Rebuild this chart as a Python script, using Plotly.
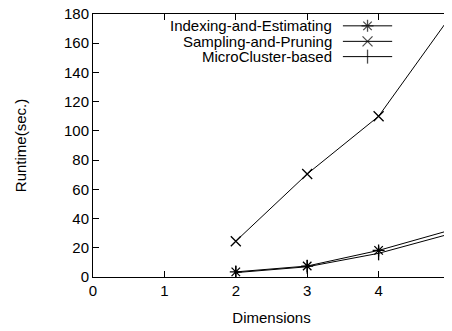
import plotly.graph_objects as go

dims = [2, 3, 4, 5]
indexing = [3.5, 7.5, 18.2, 32]
sampling = [24.5, 70.5, 110, 178]
micro = [3.0, 7.0, 16.2, 29.5]
names = ["Indexing-and-Estimating", "Sampling-and-Pruning", "MicroCluster-based"]
symbols = ["asterisk-open", "x-thin-open", "line-ns-open"]
xticks = [0, 1, 2, 3, 4, 5]
yticks = [0, 20, 40, 60, 80, 100, 120, 140, 160, 180]

FONT = "Liberation Sans, Arial, sans-serif"
fig = go.Figure()
series = [indexing, sampling, micro]
for name, vals, sym in zip(names, series, symbols):
    fig.add_trace(go.Scatter(
        x=dims, y=vals, mode="lines+markers", name=name, showlegend=False,
        line=dict(color="black", width=1),
        marker=dict(symbol=sym, size=10, color="black", line=dict(color="black", width=1.3)),
    ))

# manual gnuplot-style legend: text right-aligned, sample to the right
rows = [0.955, 0.896, 0.838]
for name, sym, yy in zip(names, symbols, rows):
    fig.add_trace(go.Scatter(
        x=[0.700, 0.769, 0.838], y=[yy, yy, yy], xaxis="x2", yaxis="y2",
        mode="lines+markers", showlegend=False, hoverinfo="skip",
        line=dict(color="black", width=1),
        marker=dict(symbol=sym, size=[0, 10, 0], color="black", line=dict(color="black", width=1.3)),
    ))
    fig.add_annotation(x=0.675, y=yy, xref="paper", yref="paper", text=name,
                       showarrow=False, xanchor="right", yanchor="middle",
                       font=dict(family=FONT, size=15, color="black"))

axis_common = dict(showline=True, linecolor="black", linewidth=1, mirror="ticks",
                   ticks="inside", ticklen=6, tickcolor="black", showgrid=False,
                   zeroline=False, automargin=False, ticklabeloverflow="allow",
                   tickfont=dict(family=FONT, size=15, color="black"))
# page body has an 8px margin, so the figure is sized to fit the 452x331 window
fig.update_layout(
    width=444, height=323,
    margin=dict(l=85, r=2, t=6, b=54),
    paper_bgcolor="white", plot_bgcolor="white",
    xaxis=dict(range=[0, 5], tickvals=xticks,
               title=dict(text="Dimensions", font=dict(family=FONT, size=15, color="black"), standoff=14),
               **axis_common),
    yaxis=dict(range=[0, 180], tickvals=yticks,
               title=dict(text="Runtime(sec.)", font=dict(family=FONT, size=15, color="black"), standoff=33),
               **axis_common),
    xaxis2=dict(overlaying="x", range=[0, 1], visible=False),
    yaxis2=dict(overlaying="y", range=[0, 1], visible=False),
)
fig.write_html("out.html")
